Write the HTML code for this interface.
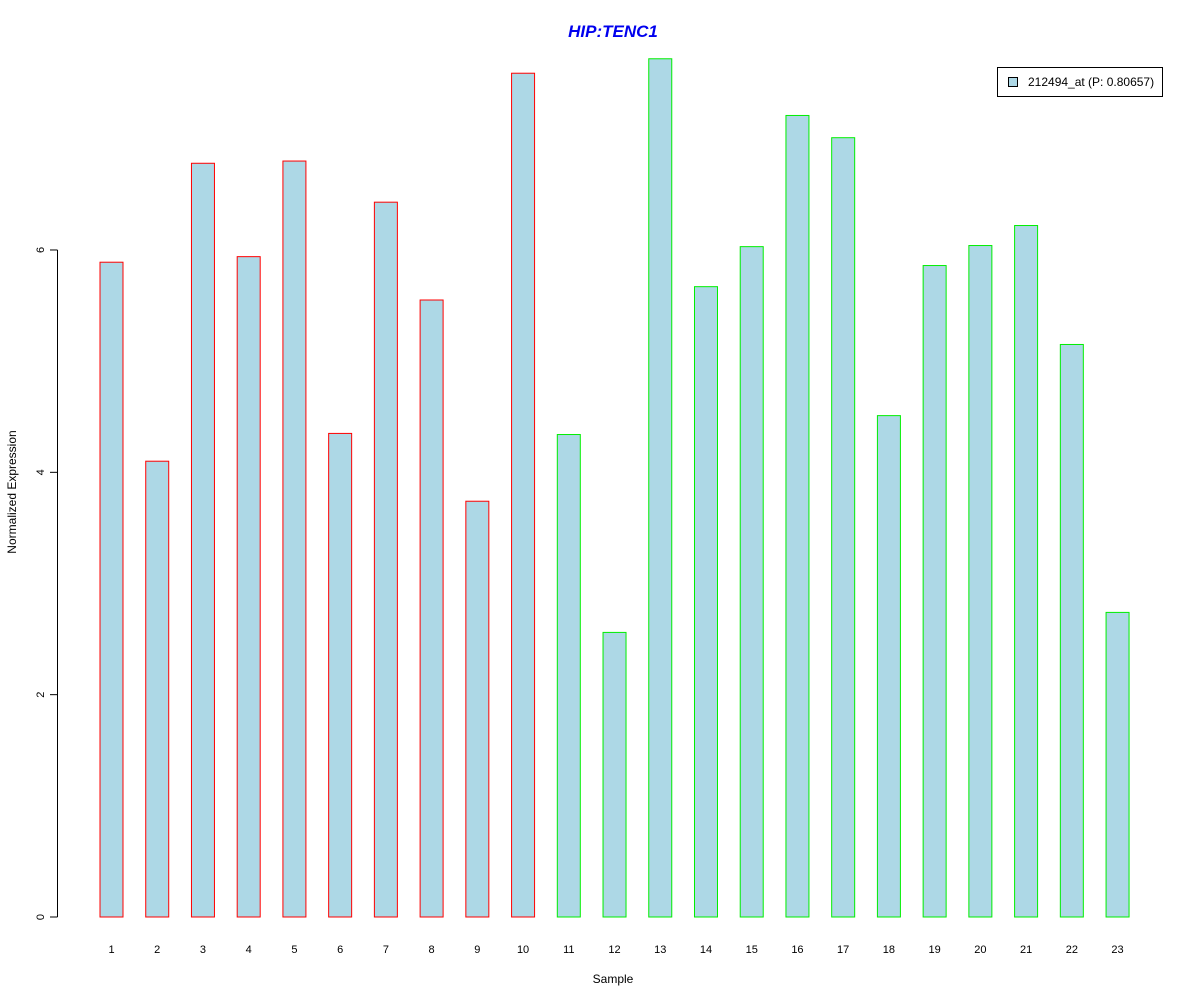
<!DOCTYPE html>
<html><head><meta charset="utf-8"><style>
body{margin:0;background:#fff}
svg text{font-family:"Liberation Sans",Arial,sans-serif}
</style></head><body>
<svg id="chart" width="1200" height="1000" xmlns="http://www.w3.org/2000/svg">
<rect width="1200" height="1000" fill="#fff"/>
<text x="613" y="37" text-anchor="middle" font-size="17" font-weight="bold" font-style="italic" fill="#0000ee">HIP:TENC1</text>
<text x="613" y="983" text-anchor="middle" font-size="12">Sample</text>
<text transform="translate(16,492) rotate(-90)" text-anchor="middle" font-size="12">Normalized Expression</text>
<g id="bars"></g><g id="yaxis"></g><g id="xlabels"></g>
<g>
<rect x="997.5" y="67.5" width="165" height="29" fill="#fff" stroke="#000"/>
<rect x="1008.5" y="77.5" width="9" height="9" fill="#add8e6" stroke="#000"/>
<text x="1028" y="86" font-size="12">212494_at (P: 0.80657)</text>
</g>
</svg>
<script>
const categories=["1","2","3","4","5","6","7","8","9","10","11","12","13","14","15","16","17","18","19","20","21","22","23"];
const values=[5.89,4.10,6.78,5.94,6.80,4.35,6.43,5.55,3.74,7.59,4.34,2.56,7.72,5.67,6.03,7.21,7.01,4.51,5.86,6.04,6.22,5.15,2.74];
const groups=[1,1,1,1,1,1,1,1,1,1,2,2,2,2,2,2,2,2,2,2,2,2,2];
const yTicks=[0,2,4,6];
const NS="http://www.w3.org/2000/svg";
const y=v=>917-v*111.17;
const x=i=>111.5+i*45.73;
const bars=document.getElementById('bars');
values.forEach((v,i)=>{
 const r=document.createElementNS(NS,'rect');
 
 
 r.setAttribute('x',x(i)-11.5);r.setAttribute('width',23);
 r.setAttribute('y',y(v));r.setAttribute('height',y(0)-y(v));
 r.setAttribute('fill','#add8e6');
 r.setAttribute('stroke',groups[i]===1?'#ff0000':'#00ee00');
 bars.appendChild(r);
 const t=document.createElementNS(NS,'text');
 
 
 t.setAttribute('x',x(i));t.setAttribute('y',953);t.setAttribute('text-anchor','middle');t.setAttribute('font-size','11');
 t.textContent=categories[i];
 document.getElementById('xlabels').appendChild(t);
});
const ya=document.getElementById('yaxis');
const al=document.createElementNS(NS,'line');


al.setAttribute('x1',57.5);al.setAttribute('x2',57.5);al.setAttribute('y1',y(0));al.setAttribute('y2',y(6));al.setAttribute('stroke','#000');
ya.appendChild(al);
yTicks.forEach(v=>{
 const l=document.createElementNS(NS,'line');
 
 
 l.setAttribute('x1',50);l.setAttribute('x2',57.5);l.setAttribute('y1',y(v));l.setAttribute('y2',y(v));l.setAttribute('stroke','#000');
 ya.appendChild(l);
 const t=document.createElementNS(NS,'text');
 
 
 t.setAttribute('transform','translate(44,'+y(v)+') rotate(-90)');
 t.setAttribute('text-anchor','middle');t.setAttribute('font-size','11');
 t.textContent=v;
 ya.appendChild(t);
});
</script>
</body></html>
